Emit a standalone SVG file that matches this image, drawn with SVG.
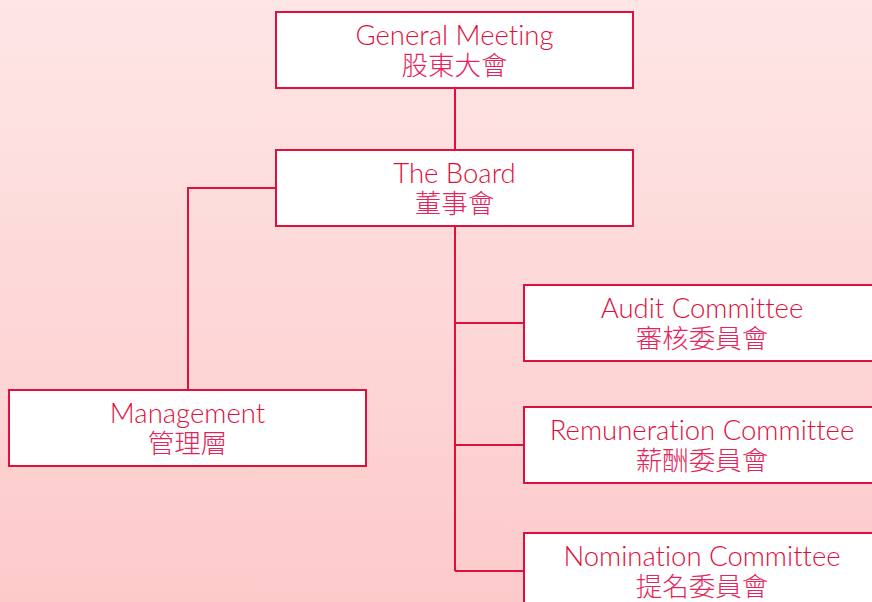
<svg xmlns="http://www.w3.org/2000/svg" width="872" height="602" viewBox="0 0 872 602">
<defs>
<linearGradient id="bg" x1="0" y1="0" x2="0" y2="1">
<stop offset="0" stop-color="#fee6e6"/>
<stop offset="1" stop-color="#fdcaca"/>
</linearGradient>
<style>
.box{fill:#ffffff;stroke:#e0103c;stroke-width:2}
.en{font-family:"Lato","Noto Sans","Liberation Sans",sans-serif;font-weight:300;font-size:27.5px;fill:#e0103c;text-anchor:middle;font-variant-ligatures:none}
.zh{font-family:"Noto Sans CJK TC","Noto Sans CJK SC",sans-serif;font-weight:300;font-size:26.5px;fill:#e3245a;text-anchor:middle}
.con{fill:none;stroke:#e0103c;stroke-width:2}
</style>
</defs>
<rect width="872" height="602" fill="url(#bg)"/>
<g id="connectors">
<path class="con" d="M455 88V150"/>
<path class="con" d="M455 226V571"/>
<path class="con" d="M455 323H524"/>
<path class="con" d="M455 445H524"/>
<path class="con" d="M455 571H524"/>
<path class="con" d="M276 188H188V390"/>
</g>
<g id="general-meeting">
<rect class="box" x="276" y="12" width="357" height="76"/>
<text class="en" x="454.5" y="45">General Meeting</text>
<text class="zh" x="454.5" y="75">股東大會</text>
</g>
<g id="board">
<rect class="box" x="276" y="150" width="357" height="76"/>
<text class="en" x="454.5" y="183">The Board</text>
<text class="zh" x="454.5" y="213">董事會</text>
</g>
<g id="audit">
<rect class="box" x="524" y="285" width="357" height="76"/>
<text class="en" x="702" y="318">Audit Committee</text>
<text class="zh" x="702" y="348">審核委員會</text>
</g>
<g id="remuneration">
<rect class="box" x="524" y="407" width="357" height="76"/>
<text class="en" x="702" y="440">Remuneration Committee</text>
<text class="zh" x="702" y="470">薪酬委員會</text>
</g>
<g id="nomination">
<rect class="box" x="524" y="533" width="357" height="76"/>
<text class="en" x="702" y="566">Nomination Committee</text>
<text class="zh" x="702" y="596">提名委員會</text>
</g>
<g id="management">
<rect class="box" x="9" y="390" width="357" height="76"/>
<text class="en" x="187.5" y="423">Management</text>
<text class="zh" x="187.5" y="453">管理層</text>
</g>
</svg>
